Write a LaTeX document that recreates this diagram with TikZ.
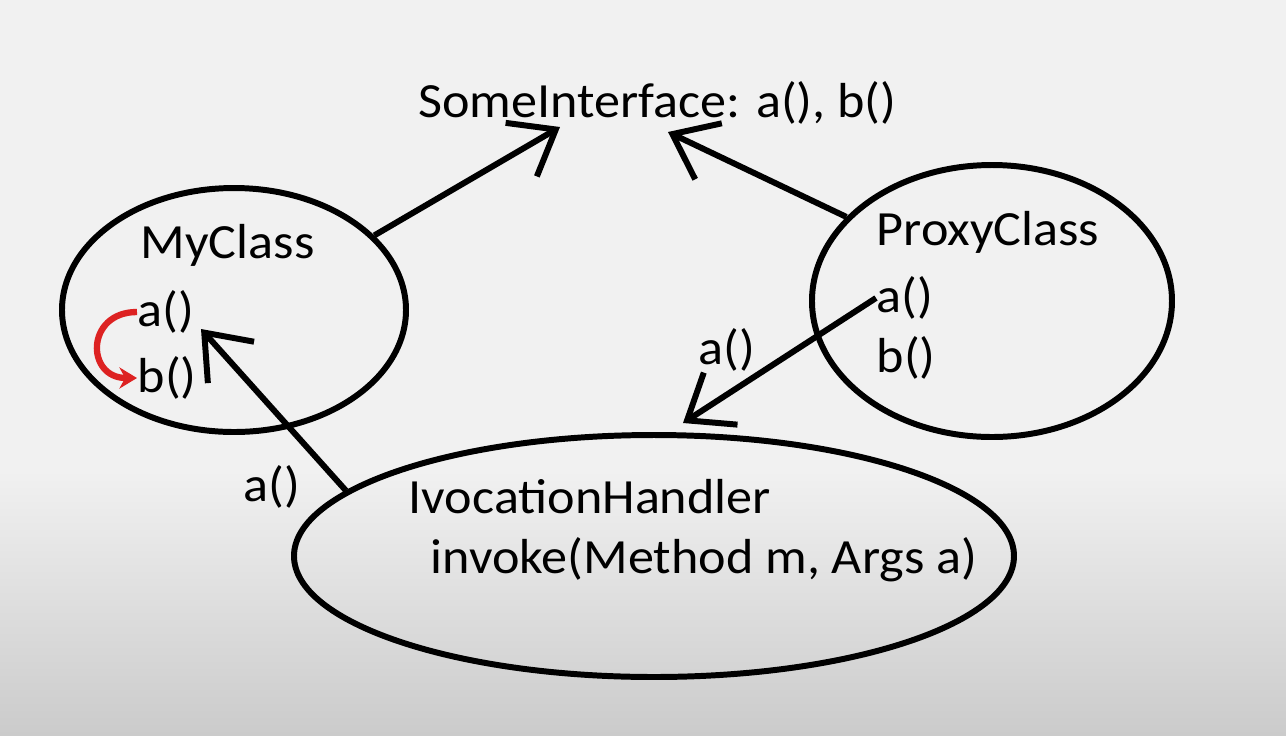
\documentclass[tikz,border=0pt]{standalone}
\usepackage{fontspec}
\setmainfont[FakeStretch=1.06]{Carlito}
\usetikzlibrary{shapes.geometric,arrows.meta}
\definecolor{bgtop}{HTML}{F1F1F1}
\definecolor{bgbot}{HTML}{CBCBCB}
\definecolor{callred}{HTML}{DD2222}
\begin{document}
\begin{tikzpicture}[
    txt/.style={font=\fontsize{14}{17}\selectfont, inner sep=0pt},
    cls/.style={ellipse, draw, line width=1.7pt},
    link/.style={line width=1.7pt, -{Straight Barb[length=0.4cm, width=0.62cm, line width=1.7pt]}}
  ]
    % 背景
    \useasboundingbox (0,0) rectangle (12.86,-7.35);
    \fill[bgtop] (0,0) rectangle (12.86,-7.35);
    \shade[top color=bgtop, bottom color=bgbot] (0,-4.7) rectangle (12.86,-7.35);

    % 楕円
    \node[cls, minimum width=3.44cm, minimum height=2.44cm] (myclass) at (2.34,-3.10) {};
    \node[cls, minimum width=3.60cm, minimum height=2.72cm] (proxy) at (9.92,-3.01) {};
    \node[cls, minimum width=7.20cm, minimum height=2.42cm] (handler) at (6.54,-5.56) {};

    % 文字を入れる
    \node[txt] (iface) at (6.575,-1.03) {SomeInterface: a(), b()};
    \node[txt, anchor=west] (mname) at (1.40,-2.45) {MyClass};
    \node[txt, anchor=west] (ma) at (1.37,-3.12) {a()};
    \node[txt, anchor=west] (mb) at (1.37,-3.78) {b()};
    \node[txt, anchor=west] (pname) at (8.76,-2.32) {ProxyClass};
    \node[txt, anchor=west] (pa) at (8.76,-2.98) {a()};
    \node[txt, anchor=west] (pb) at (8.76,-3.58) {b()};
    \node[txt, anchor=west] (hname) at (4.08,-4.97) {IvocationHandler};
    \node[txt, anchor=west] (hinvoke) at (4.30,-5.60) {invoke(Method m, Args a)};
    \node[txt] (lbla) at (7.27,-3.50) {a()};
    \node[txt] (lblb) at (2.72,-4.87) {a()};

    % 矢印の先
    \coordinate (tipa) at (5.60,-1.27);
    \coordinate (tipb) at (6.68,-1.32);
    \coordinate (tipc) at (6.83,-4.23);
    \coordinate (tipd) at (2.01,-3.29);

    % 線を引く
    \draw[link] (myclass.28) -- (tipa);
    \draw[link] (proxy.150) -- (tipb);
    \draw[link] (pa.west) -- (tipc);
    \draw[link] (handler.168) -- (tipd);
    \draw[callred, line width=1.8pt, -{Stealth[length=5pt, width=6pt]}]
      (ma.west) to[out=180, in=180, looseness=2] (mb.west);
  \end{tikzpicture}
\end{document}
